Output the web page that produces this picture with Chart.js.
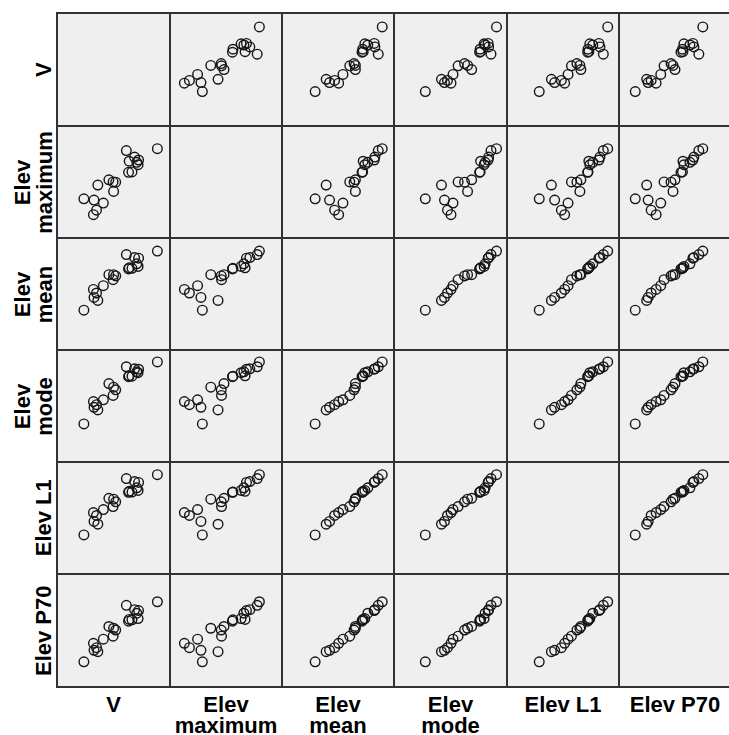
<!DOCTYPE html>
<html>
<head>
<meta charset="utf-8">
<script src="https://cdn.jsdelivr.net/npm/chart.js@4.4.1/dist/chart.umd.min.js"></script>
<style>
  html, body { margin: 0; padding: 0; background: #ffffff; }
  body { width: 729px; height: 735px; position: relative; overflow: hidden;
         font-family: "Liberation Sans", Arial, sans-serif; }
  #frame { position: absolute; background: #333333; }
  .cell { position: absolute; background: #efefef; overflow: hidden; }
  .cell canvas { display: block; }
  .lab { position: absolute; font-weight: bold; font-size: 22px; line-height: 21.5px;
         text-align: center; color: #000; white-space: nowrap; }
</style>
</head>
<body>
<div id="frame"></div>
<script>
// Variable names and their (possibly two-line) labels
const variables = ["V", "Elev maximum", "Elev mean", "Elev mode", "Elev L1", "Elev P70"];
const labelLines = [["V"], ["Elev", "maximum"], ["Elev", "mean"], ["Elev", "mode"], ["Elev L1"], ["Elev P70"]];

// One value per site, same order in every array
const V           = [9.37, 7.50, 7.45, 7.32, 7.10, 6.84, 6.50, 6.56, 6.28, 5.01, 5.22, 4.96, 4.54, 3.99, 3.31, 3.00, 3.06, 3.44, 2.05];
const elevMaximum = [2672, 2412, 2304, 2360, 2480, 2140, 2130, 2384, 2628, 1694, 1904, 1910, 1960, 1428, 1264, 1162, 1496, 1840, 1524];
const elevMean    = [1534, 1437, 1324, 1360, 1445, 1298, 1290, 1304, 1486, 1210, 1194, 1142, 1210, 1060, 959, 1008, 898, 857, 724];
const elevMode    = [1450, 1350, 1302, 1314, 1356, 1254, 1248, 1260, 1384, 1104, 1068, 991, 1153, 930, 864, 906, 828, 792, 599];
const elevL1      = [1540, 1434, 1324, 1360, 1446, 1302, 1298, 1312, 1487, 1204, 1168, 1102, 1216, 1061, 980, 1020, 899, 860, 713];
const elevP70     = [1436, 1316, 1208, 1280, 1328, 1190, 1172, 1196, 1388, 1076, 1052, 968, 1100, 928, 812, 872, 776, 758, 620];

// Axis extent used for each variable
const axisLow  = [0, 1000, 400, 300, 400, 500];
const axisHigh = [10, 3000, 1600, 1500, 1600, 1700];

const series = [V, elevMaximum, elevMean, elevMode, elevL1, elevP70];

// ---- layout of the matrix ----
const N = variables.length;
const colEdge = [], rowEdge = [];
for (let i = 0; i <= N; i++) {
  colEdge.push(Math.round(57.3 + i * 112.3));
  rowEdge.push(Math.round(13.3 + i * 112.2));
}
// vertical axes leave extra room below the points
const Y_OFF = 0.1, Y_SCALE = 0.88;

const frame = document.getElementById('frame');
frame.style.left = (colEdge[0] - 1) + 'px';
frame.style.top = (rowEdge[0] - 1) + 'px';
frame.style.width = (colEdge[N] - colEdge[0] + 2) + 'px';
frame.style.height = (rowEdge[N] - rowEdge[0] + 2) + 'px';

function xRange(k, span) {
  const lo = axisLow[k], d = axisHigh[k] - lo;
  return { min: lo + (1 / span) * d, max: lo + ((span - 1) / span) * d };
}
function yRange(k, span) {
  const lo = axisLow[k], d = axisHigh[k] - lo;
  const g0 = 1 / span, g1 = (span - 1) / span;
  return { min: lo + ((g0 - Y_OFF) / Y_SCALE) * d, max: lo + ((g1 - Y_OFF) / Y_SCALE) * d };
}

for (let r = 0; r < N; r++) {
  for (let c = 0; c < N; c++) {
    const left = colEdge[c] + 1, right = colEdge[c + 1] - 1;
    const top = rowEdge[r] + 1, bottom = rowEdge[r + 1] - 1;
    const cell = document.createElement('div');
    cell.className = 'cell';
    cell.style.left = left + 'px';
    cell.style.top = top + 'px';
    cell.style.width = (right - left) + 'px';
    cell.style.height = (bottom - top) + 'px';
    document.body.appendChild(cell);
    if (r === c) continue;

    const cv = document.createElement('canvas');
    cv.width = right - left;
    cv.height = bottom - top;
    cv.style.width = cv.width + 'px';
    cv.style.height = cv.height + 'px';
    cell.appendChild(cv);

    const xs = series[c], ys = series[r];
    const pts = xs.map((x, i) => ({ x: x, y: ys[i] }));
    const xr = xRange(c, colEdge[c + 1] - colEdge[c]);
    const yr = yRange(r, rowEdge[r + 1] - rowEdge[r]);

    new Chart(cv, {
      type: 'scatter',
      data: {
        datasets: [{
          data: pts,
          pointStyle: 'circle',
          pointRadius: 4.8,
          pointBorderWidth: 1.4,
          borderColor: '#161616',
          backgroundColor: 'rgba(0,0,0,0)',
          clip: false
        }]
      },
      options: {
        responsive: false,
        maintainAspectRatio: false,
        devicePixelRatio: 1,
        animation: false,
        events: [],
        layout: { padding: 0 },
        plugins: { legend: { display: false }, tooltip: { enabled: false } },
        scales: {
          x: { type: 'linear', min: xr.min, max: xr.max, display: false },
          y: { type: 'linear', min: yr.min, max: yr.max, display: false }
        }
      }
    });
  }
}

// ---- variable labels ----
const LH = 21.5, BASE = 18.1;
for (let k = 0; k < N; k++) {
  const lines = labelLines[k];
  // column labels under the matrix
  const cx = (colEdge[k] + colEdge[k + 1]) / 2;
  const bl = document.createElement('div');
  bl.className = 'lab';
  bl.style.width = '140px';
  bl.style.left = (cx - 70) + 'px';
  bl.style.top = (712 - BASE) + 'px';
  bl.innerHTML = lines.join('<br>');
  document.body.appendChild(bl);

  // row labels, rotated, to the left of the matrix
  const cy = (rowEdge[k] + rowEdge[k + 1]) / 2;
  const H = LH * lines.length, W = 140;
  const lastBase = -H / 2 + LH * (lines.length - 1) + BASE;
  const centerX = 51 - lastBase;
  const rl = document.createElement('div');
  rl.className = 'lab';
  rl.style.width = W + 'px';
  rl.style.height = H + 'px';
  rl.style.left = (centerX - W / 2) + 'px';
  rl.style.top = (cy - H / 2) + 'px';
  rl.style.transform = 'rotate(-90deg)';
  rl.style.transformOrigin = '50% 50%';
  rl.innerHTML = lines.join('<br>');
  document.body.appendChild(rl);
}
</script>
</body>
</html>
